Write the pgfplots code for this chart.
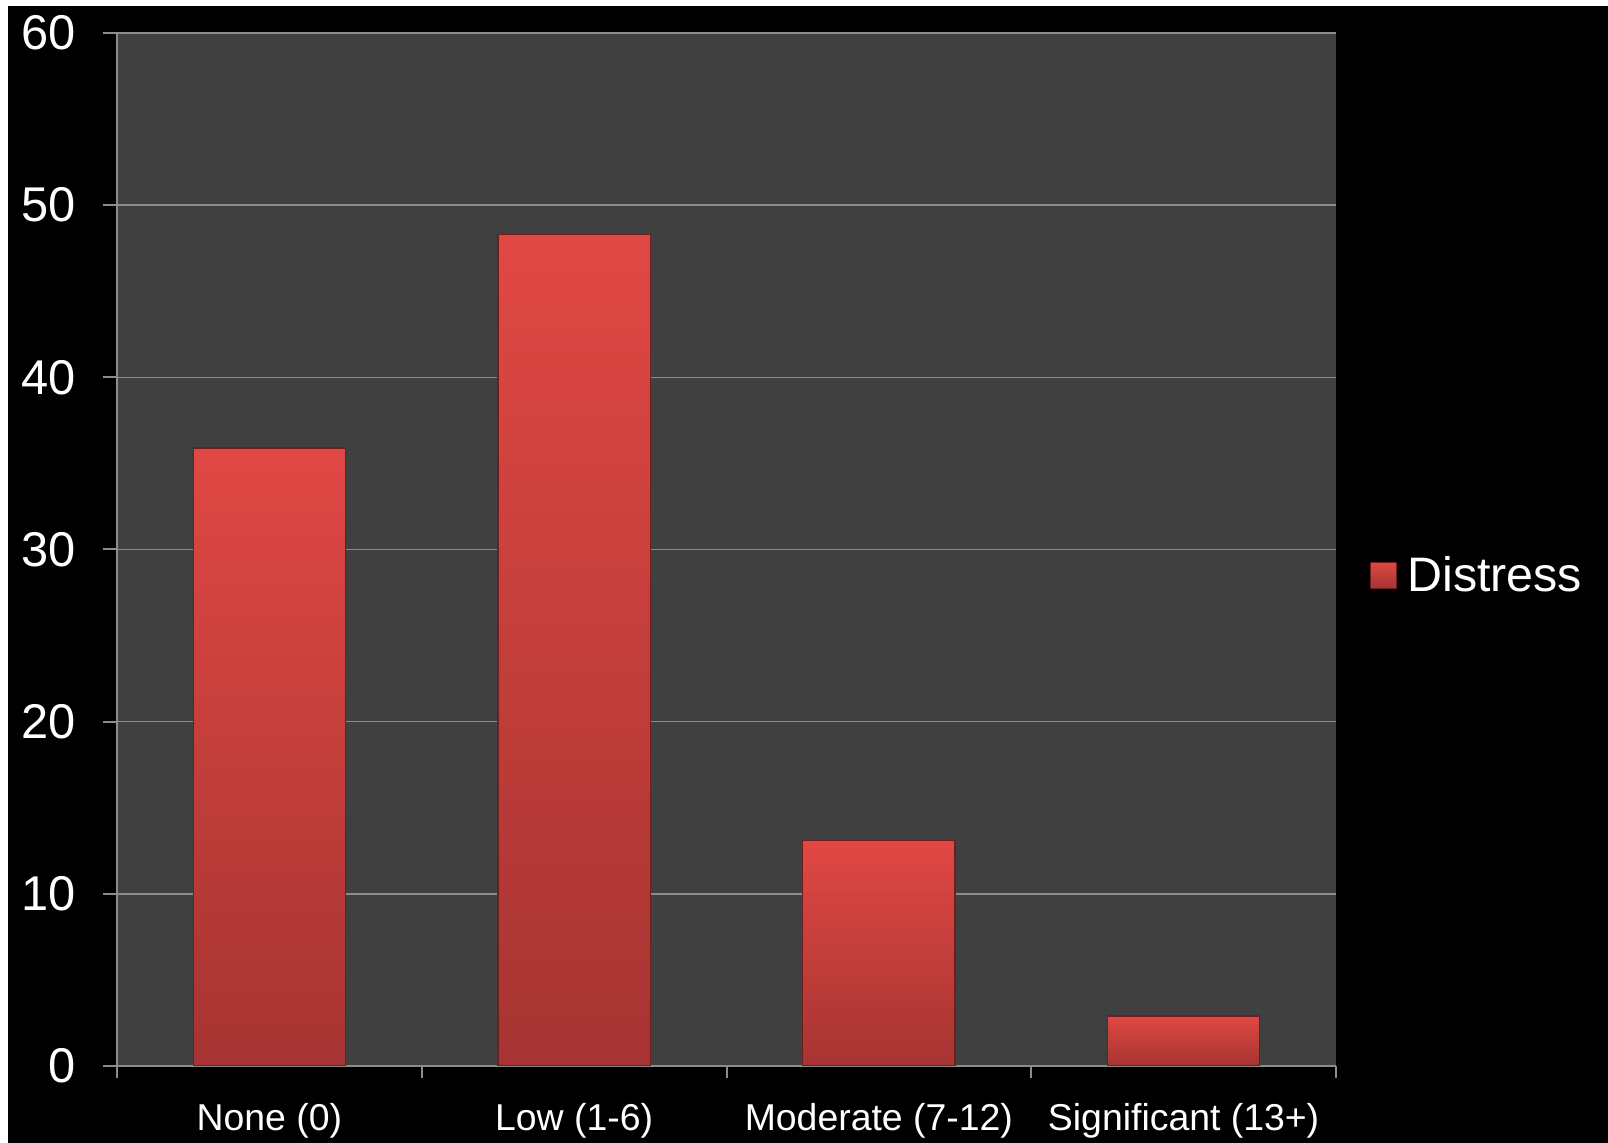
\documentclass[border=0pt]{standalone}
\usepackage{pgfplots}
\pgfplotsset{compat=1.18}
\usepackage{fontspec}
\setmainfont{Liberation Sans}
\definecolor{plotbg}{RGB}{64,64,64}
\definecolor{gridc}{RGB}{140,140,140}
\definecolor{bartop}{RGB}{224,72,68}
\definecolor{barbot}{RGB}{166,52,50}
\definecolor{baredge}{RGB}{110,30,28}
\begin{document}
\begin{tikzpicture}
\fill[white] (-58.5pt,-38.5pt) rectangle (745.5pt,533pt);
\fill[black] (-54.5pt,-38.5pt) rectangle (745.5pt,530pt);
\useasboundingbox (-58.5pt,-38.5pt) rectangle (745.5pt,533pt);
\begin{axis}[
  at={(0pt,0pt)}, anchor=south west,
  scale only axis, width=609.5pt, height=516.5pt,
  xmin=-0.5, xmax=3.5, ymin=0, ymax=60,
  axis background/.style={fill=plotbg},
  axis x line*=bottom, axis y line*=left,
  axis line style={gridc, line width=1pt, -},
  ytick={0,10,...,60},
  ymajorgrids, major grid style={gridc, line width=0.8pt},
  xtick={0,1,2,3},
  xticklabels={None (0), Low (1-6), Moderate (7-12), Significant (13+)},
  minor xtick={-0.5,0.5,1.5,2.5,3.5},
  tick align=outside,
  major tick length=7pt, minor tick length=6pt,
  major x tick style={draw=none},
  tick style={gridc, line width=1pt},
  minor tick style={gridc, line width=1pt},
  /pgf/number format/assume math mode=true,
  ticklabel style={text=white},
  yticklabel style={font=\fontsize{24.4}{24.4}\selectfont, anchor=east, xshift=-10pt},
  xticklabel style={font=\fontsize{18.7}{18.7}\selectfont, anchor=base, yshift=-25.5pt},
  legend style={at={(1,0.475)}, anchor=west, xshift=17pt, fill=none, draw=none,
    text=white, font=\fontsize{24.2}{24.2}\selectfont, inner sep=0pt,
    nodes={inner xsep=5pt}},
  legend cell align=left,
  legend image code/.code={\shade[top color=bartop, bottom color=barbot, draw=baredge, line width=0.5pt] (0pt,-6.5pt) rectangle (13pt,6.5pt);},
  barsty/.style={ybar, bar shift=0pt, bar width=0.5, draw=baredge, line width=0.6pt,
    top color=bartop, bottom color=barbot},
]
\addplot[barsty] coordinates {(0,35.9)};
\addlegendentry{Distress}
\addplot[barsty, forget plot] coordinates {(1,48.3)};
\addplot[barsty, forget plot] coordinates {(2,13.1)};
\addplot[barsty, forget plot] coordinates {(3,2.9)};
\end{axis}
\end{tikzpicture}
\end{document}
